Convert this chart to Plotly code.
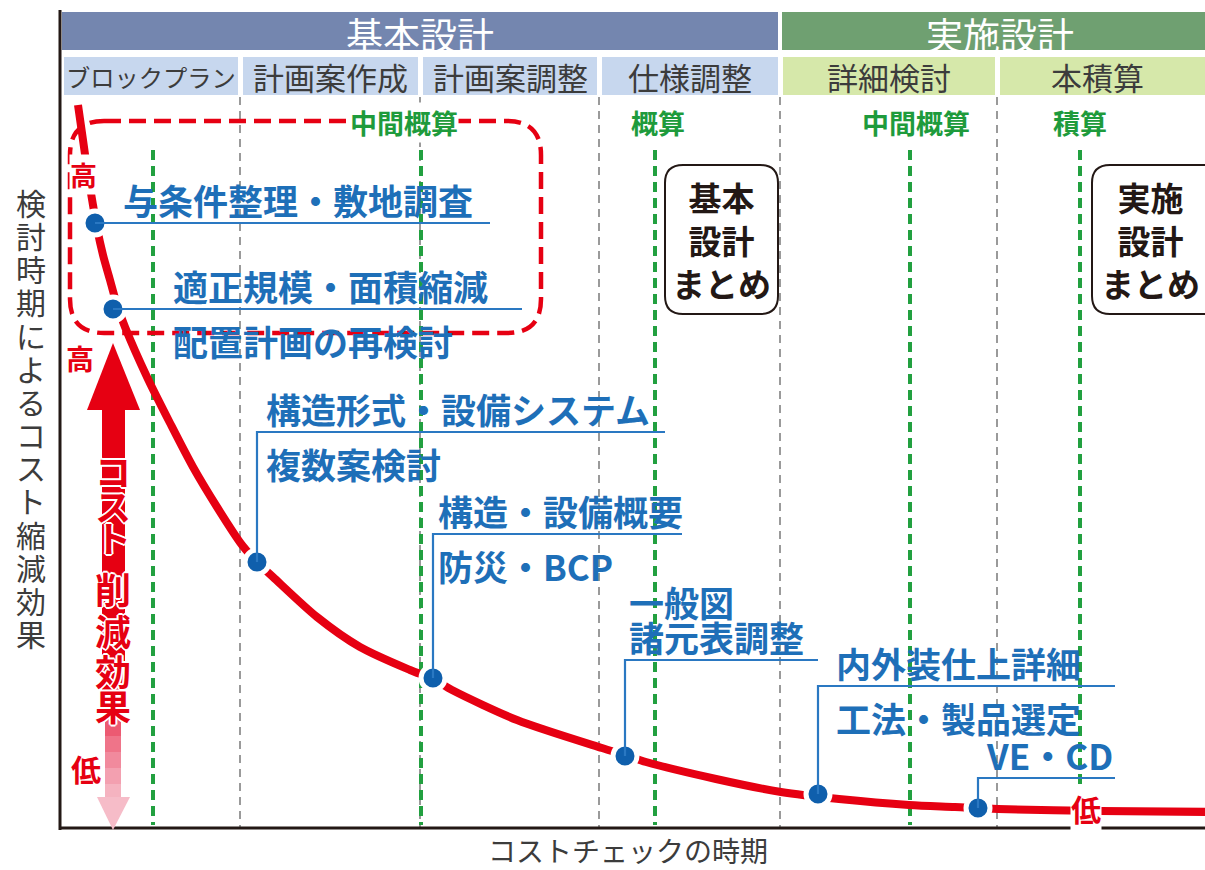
import plotly.graph_objects as go

FONT = "Noto Sans CJK JP"
W, H = 1205, 870
EDGE = 1220  # bleed past the right edge

# ---------------- data ----------------
phases = ["基本設計", "実施設計"]
phase_start = [62, 782]
phase_end = [778, 1205]
phase_center = [420, 1000]
phase_colors = ["#7486AF", "#6FA071"]

steps = ["ブロックプラン", "計画案作成", "計画案調整", "仕様調整", "詳細検討", "本積算"]
step_start = [64, 243, 423, 602, 783, 1000]
step_end = [238, 418, 597, 778, 995, 1195]
step_phase = [0, 0, 0, 0, 1, 1]
step_colors = ["#C7D7EE", "#D6E8AA"]

divider_x = [240, 420, 599, 780, 997]

check_x = [153, 421, 655, 910, 1080]
check_names = ["中間概算", "概算", "中間概算", "積算"]
check_name_x = [404, 658, 916, 1080]

curve_x = [78, 83, 88, 93, 97, 103, 110, 117, 125, 147, 170, 193, 217, 242, 258, 273, 317, 360, 410,
           433, 452, 517, 602, 625, 646, 716, 781, 839, 909, 955, 998, 1100, 1220]
curve_y = [105, 140, 175, 205, 228, 255, 280, 305, 327, 377, 423, 467, 507, 545, 563, 577, 617, 647, 670,
           679, 690, 720, 748, 755, 762, 779, 792, 799, 805, 807, 809, 811, 812]

point_x = [95, 113, 257, 433, 625, 818, 978]
point_y = [223, 309, 562, 678, 756, 794, 808]
leader_y = [223, 309, 432, 534, 660, 686, 778]
leader_end = [490, 522, 665, 682, 818, 1115, 1115]

label_upper = [["与条件整理・敷地調査"], ["適正規模・面積縮減"], ["構造形式・設備システム"],
               ["構造・設備概要"], ["一般図", "諸元表調整"], ["内外装仕上詳細"], ["VE・CD"]]
label_lower = [[], ["配置計画の再検討"], ["複数案検討"], ["防災・BCP"], [], ["工法・製品選定"], []]
label_x = [122, 172, 265, 437, 628, 835, 985]

summary_boxes = ["基本<br>設計<br>まとめ", "実施<br>設計<br>まとめ"]
summary_x0 = [665, 1092]
summary_x1 = [778, 1222]
summary_cx = [721, 1150]

y_title = "検討時期によるコスト縮減効果"
x_title = "コストチェックの時期"
arrow_text = "コスト削減効果"
arrow_char_y = [470, 505, 537, 588, 630, 670, 705]

# ---------------- colours ----------------
RED = "#E60012"
BLUE = "#1E6FB8"
DOT = "#0F5FAC"
GREEN = "#1E9B3C"
DARK = "#231815"
GRAY_TXT = "#3C3C3C"

fig = go.Figure()
shapes = []
ann = []

def A(text, x, y, size, color, bold=False, xa="center", ya="middle", bg=None, shadow=None):
    f = dict(family=FONT, size=size, color=color, weight=700 if bold else 400)
    if shadow:
        f["shadow"] = shadow
    d = dict(text=text, x=x, y=y, xref="x", yref="y", showarrow=False,
             xanchor=xa, yanchor=ya, font=f, borderpad=0)
    if bg:
        d["bgcolor"] = bg
    ann.append(d)

def right(x):
    return EDGE if x >= 1195 else x

# headers
for name, x0, x1, cx, c in zip(phases, phase_start, phase_end, phase_center, phase_colors):
    shapes.append(dict(type="rect", x0=x0, x1=right(x1), y0=12, y1=50, fillcolor=c, line_width=0, layer="below"))
    A(name, cx, 34, 37, "white")

for name, x0, x1, p in zip(steps, step_start, step_end, step_phase):
    shapes.append(dict(type="rect", x0=x0, x1=right(x1), y0=57, y1=95, fillcolor=step_colors[p], line_width=0, layer="below"))
    size = min(31, (x1 - x0 - 4) / len(name))
    A(name, (x0 + x1) / 2, 76, size, GRAY_TXT)

# divider lines
for x in divider_x:
    shapes.append(dict(type="line", x0=x, x1=x, y0=97, y1=828, line=dict(color="#7A7A7A", width=1.5, dash="8px,6px"), layer="below"))
for x in check_x:
    shapes.append(dict(type="line", x0=x, x1=x, y0=150, y1=825, line=dict(color="#22A040", width=4, dash="10px,6px"), layer="below"))
for name, x in zip(check_names, check_name_x):
    A(name, x, 122, 27, GREEN, bold=True, bg="white")

# axes
shapes.append(dict(type="line", x0=60, x1=60, y0=10, y1=830, line=dict(color=DARK, width=3)))
shapes.append(dict(type="line", x0=59, x1=EDGE, y0=828, y1=828, line=dict(color=DARK, width=3)))

# red dashed rounded box
x0, x1, y0, y1, r = 70, 541, 121, 333, 34
path = (f"M {x0+r},{y0} L {x1-r},{y0} Q {x1},{y0} {x1},{y0+r} L {x1},{y1-r} Q {x1},{y1} {x1-r},{y1} "
        f"L {x0+r},{y1} Q {x0},{y1} {x0},{y1-r} L {x0},{y0+r} Q {x0},{y0} {x0+r},{y0} Z")
shapes.append(dict(type="path", path=path, line=dict(color=RED, width=4.5, dash="17px,8px"), layer="above"))

# summary boxes
for t, bx0, bx1, cx in zip(summary_boxes, summary_x0, summary_x1, summary_cx):
    by0, by1, rr = 165, 314, 18
    p = (f"M {bx0+rr},{by0} L {bx1-rr},{by0} Q {bx1},{by0} {bx1},{by0+rr} L {bx1},{by1-rr} Q {bx1},{by1} {bx1-rr},{by1} "
         f"L {bx0+rr},{by1} Q {bx0},{by1} {bx0},{by1-rr} L {bx0},{by0+rr} Q {bx0},{by0} {bx0+rr},{by0} Z")
    shapes.append(dict(type="path", path=p, line=dict(color=DARK, width=2), fillcolor="white", layer="above"))
    A(t, cx, 240, 33, DARK, bold=True)

# big red arrow
shapes.append(dict(type="path", path="M 113,343 L 140,410 L 87,410 Z", fillcolor=RED, line_width=0, layer="above"))
shapes.append(dict(type="rect", x0=102, x1=125, y0=405, y1=722, fillcolor=RED, line_width=0, layer="above"))
pinks = ["#EC5A72", "#EF7489", "#F18A9D", "#F3A0B0", "#F5B3C0"]
for i, c in enumerate(pinks):
    shapes.append(dict(type="rect", x0=105, x1=121, y0=720 + i * 16, y1=737 + i * 16, fillcolor=c, line_width=0, layer="above"))
shapes.append(dict(type="path", path="M 97,797 L 130,797 L 113,830 Z", fillcolor="#F6BCC8", line_width=0, layer="above"))

# curve
fig.add_trace(go.Scatter(x=curve_x, y=curve_y, mode="lines",
                         line=dict(color=RED, width=8, shape="spline", smoothing=0.8),
                         hoverinfo="skip", showlegend=False))
fig.add_trace(go.Scatter(x=point_x, y=point_y, mode="markers",
                         marker=dict(size=24, color=DOT, line=dict(color="white", width=5)),
                         hoverinfo="skip", showlegend=False))

# leader lines
for px, py, ly, le in zip(point_x, point_y, leader_y, leader_end):
    if abs(py - ly) < 1:
        xs, ys = [px, le], [ly, ly]
    else:
        xs, ys = [px, px, le], [py, ly, ly]
    fig.add_trace(go.Scatter(x=xs, y=ys, mode="lines", line=dict(color="#2A78C2", width=2.2),
                             hoverinfo="skip", showlegend=False))

# labels
for up, lo, lx, ly in zip(label_upper, label_lower, label_x, leader_y):
    for k, t in enumerate(reversed(up)):
        A(t, lx, ly - 24 - k * 35, 35, BLUE, bold=True, xa="left")
    for k, t in enumerate(lo):
        A(t, lx, ly + 31 + k * 35, 35, BLUE, bold=True, xa="left")

# 高 / 低 markers
A("高", 83, 174, 27, RED, bold=True, bg="white")
A("高", 80, 358, 28, RED, bold=True)
A("低", 86, 768, 30, RED, bold=True)
A("低", 1086, 808, 30, RED, bold=True, bg="white")

# arrow text
sh = "2px 0 0 #fff, -2px 0 0 #fff, 0 2px 0 #fff, 0 -2px 0 #fff, 1px 1px 0 #fff, -1px -1px 0 #fff, 1px -1px 0 #fff, -1px 1px 0 #fff"
for ch, cy in zip(arrow_text, arrow_char_y):
    A(ch, 113, cy, 36, RED, bold=True, shadow=sh)

# axis titles
n = len(y_title)
for i, ch in enumerate(y_title):
    A(ch, 31, 202 + i * (633 - 202) / (n - 1), 30, GRAY_TXT)
A(x_title, 628, 850, 28, GRAY_TXT)

fig.update_layout(
    width=W, height=H, margin=dict(l=0, r=0, t=0, b=0),
    paper_bgcolor="white", plot_bgcolor="white",
    xaxis=dict(range=[0, W], visible=False, fixedrange=True),
    yaxis=dict(range=[H, 0], visible=False, fixedrange=True),
    shapes=shapes, annotations=ann, showlegend=False,
)
fig.write_html("out.html", config={"displayModeBar": False, "staticPlot": True},
               post_script="document.body.style.margin='0px';document.body.style.overflow='hidden';")
